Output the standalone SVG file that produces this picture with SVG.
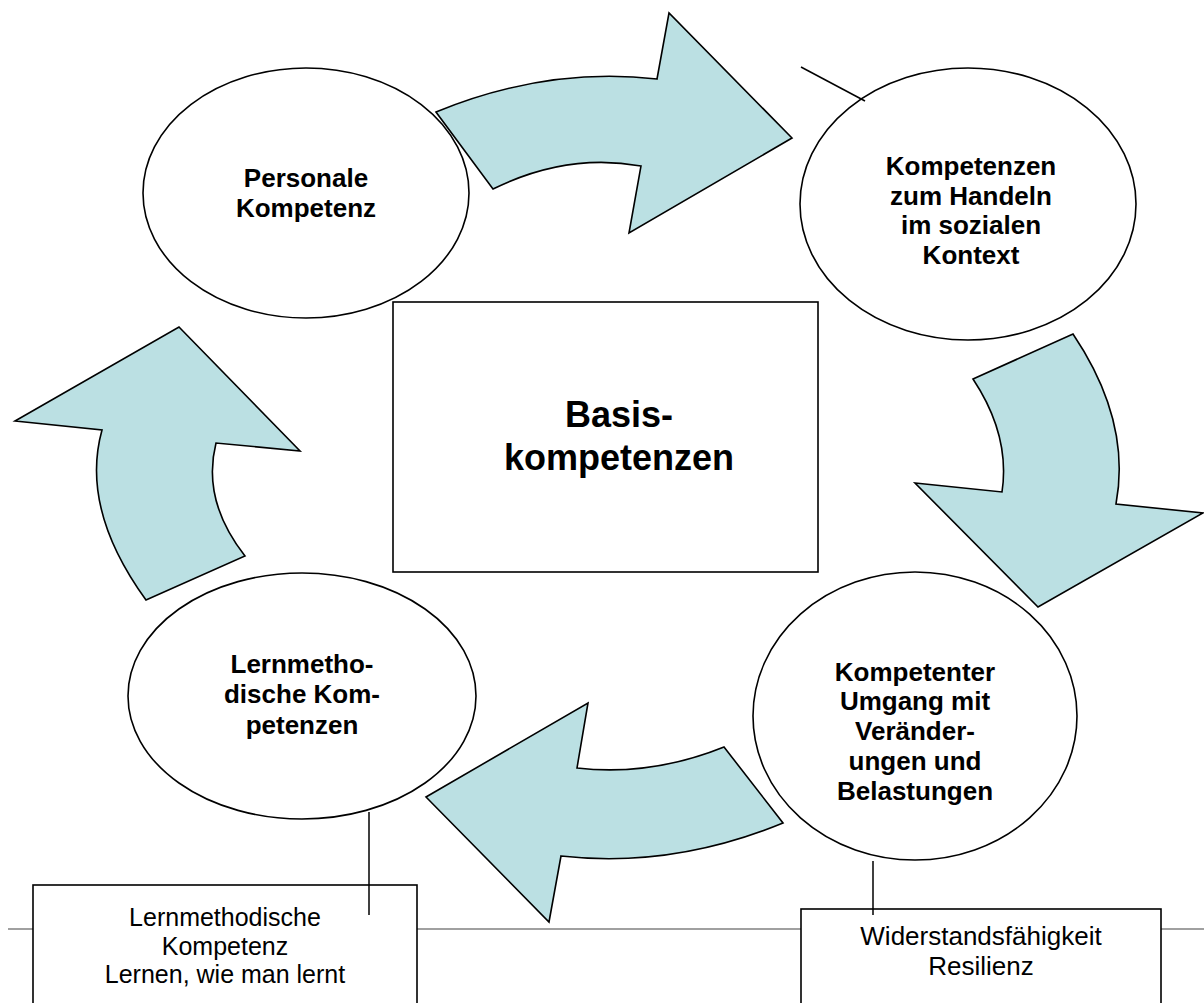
<svg xmlns="http://www.w3.org/2000/svg" width="1204" height="1003" viewBox="0 0 1204 1003">
<style>
.arrow{fill:#BBE0E3;stroke:#000;stroke-width:1.6;stroke-linejoin:miter}
.node{fill:#fff;stroke:#000;stroke-width:1.6}
.lbl{font-family:"Liberation Sans",Arial,sans-serif;font-weight:bold;font-size:26px;text-anchor:middle;fill:#000}
.big{font-family:"Liberation Sans",Arial,sans-serif;font-weight:bold;font-size:36px;text-anchor:middle;fill:#000}
.note{font-family:"Liberation Sans",Arial,sans-serif;font-size:26px;text-anchor:middle;fill:#000}
.note2{font-family:"Liberation Sans",Arial,sans-serif;font-size:25px;text-anchor:middle;fill:#000}
.conn{stroke:#000;stroke-width:1.5;fill:none}
</style>
<rect width="1204" height="1003" fill="#fff"/>
<line x1="8" y1="929" x2="1204" y2="929" stroke="#808080" stroke-width="1.5"/>
<g id="center">
<rect class="node" x="393" y="302" width="425" height="270"/>
<text class="big" x="619" y="427">Basis-</text>
<text class="big" x="619" y="470">kompetenzen</text>
</g>
<g id="arrows">
<path class="arrow" d="M436,112 Q546.5,66.5 657,79 L669,13 L792,138 L629,233 L641,166 Q567,152.5 493,189 Z"/>
<path class="arrow" d="M973,379 L1073,334 Q1131.5,421 1116,504 L1203,513 L1038,607 L915,483 L1002,492 Q1010.5,435.5 973,379 Z"/>
<path class="arrow" d="M724,747 L783,823 Q672,868.5 561,856 L549,922 L426,797 L588,703 L577,768 Q650.5,776.5 724,747 Z"/>
<path class="arrow" d="M179,327 L300,451 L216,443 Q201.5,500.5 245,556 L146,600 Q80,509 102,430 L15,421 Z"/>
</g>
<g id="personale">
<ellipse class="node" cx="306" cy="193" rx="163" ry="125"/>
<text class="lbl" x="306" y="187">Personale</text>
<text class="lbl" x="306" y="217">Kompetenz</text>
</g>
<g id="sozial">
<ellipse class="node" cx="968" cy="204" rx="168" ry="136"/>
<text class="lbl" x="971" y="175">Kompetenzen</text>
<text class="lbl" x="971" y="205">zum Handeln</text>
<text class="lbl" x="971" y="234">im sozialen</text>
<text class="lbl" x="971" y="264">Kontext</text>
</g>
<g id="lernmethodisch">
<ellipse class="node" cx="302" cy="696" rx="174" ry="123"/>
<text class="lbl" x="302" y="673">Lernmetho-</text>
<text class="lbl" x="302" y="703">dische Kom-</text>
<text class="lbl" x="302" y="734">petenzen</text>
</g>
<g id="umgang">
<ellipse class="node" cx="915" cy="716" rx="162" ry="144"/>
<text class="lbl" x="915" y="681">Kompetenter</text>
<text class="lbl" x="915" y="710">Umgang mit</text>
<text class="lbl" x="915" y="740">Veränder-</text>
<text class="lbl" x="915" y="770">ungen und</text>
<text class="lbl" x="915" y="800">Belastungen</text>
</g>
<g id="box-lern">
<rect class="node" x="33" y="885" width="384" height="130"/>
<text class="note2" x="225" y="926">Lernmethodische</text>
<text class="note2" x="225" y="954.5">Kompetenz</text>
<text class="note2" x="225" y="983">Lernen, wie man lernt</text>
</g>
<g id="box-resilienz">
<rect class="node" x="801" y="909" width="360" height="110"/>
<text class="note" x="981" y="945">Widerstandsfähigkeit</text>
<text class="note" x="981" y="975">Resilienz</text>
</g>
<g id="connectors">
<line class="conn" x1="801" y1="67" x2="865" y2="101"/>
<line class="conn" x1="369" y1="812" x2="369" y2="915"/>
<line class="conn" x1="873" y1="861" x2="873" y2="915"/>
</g>
</svg>
